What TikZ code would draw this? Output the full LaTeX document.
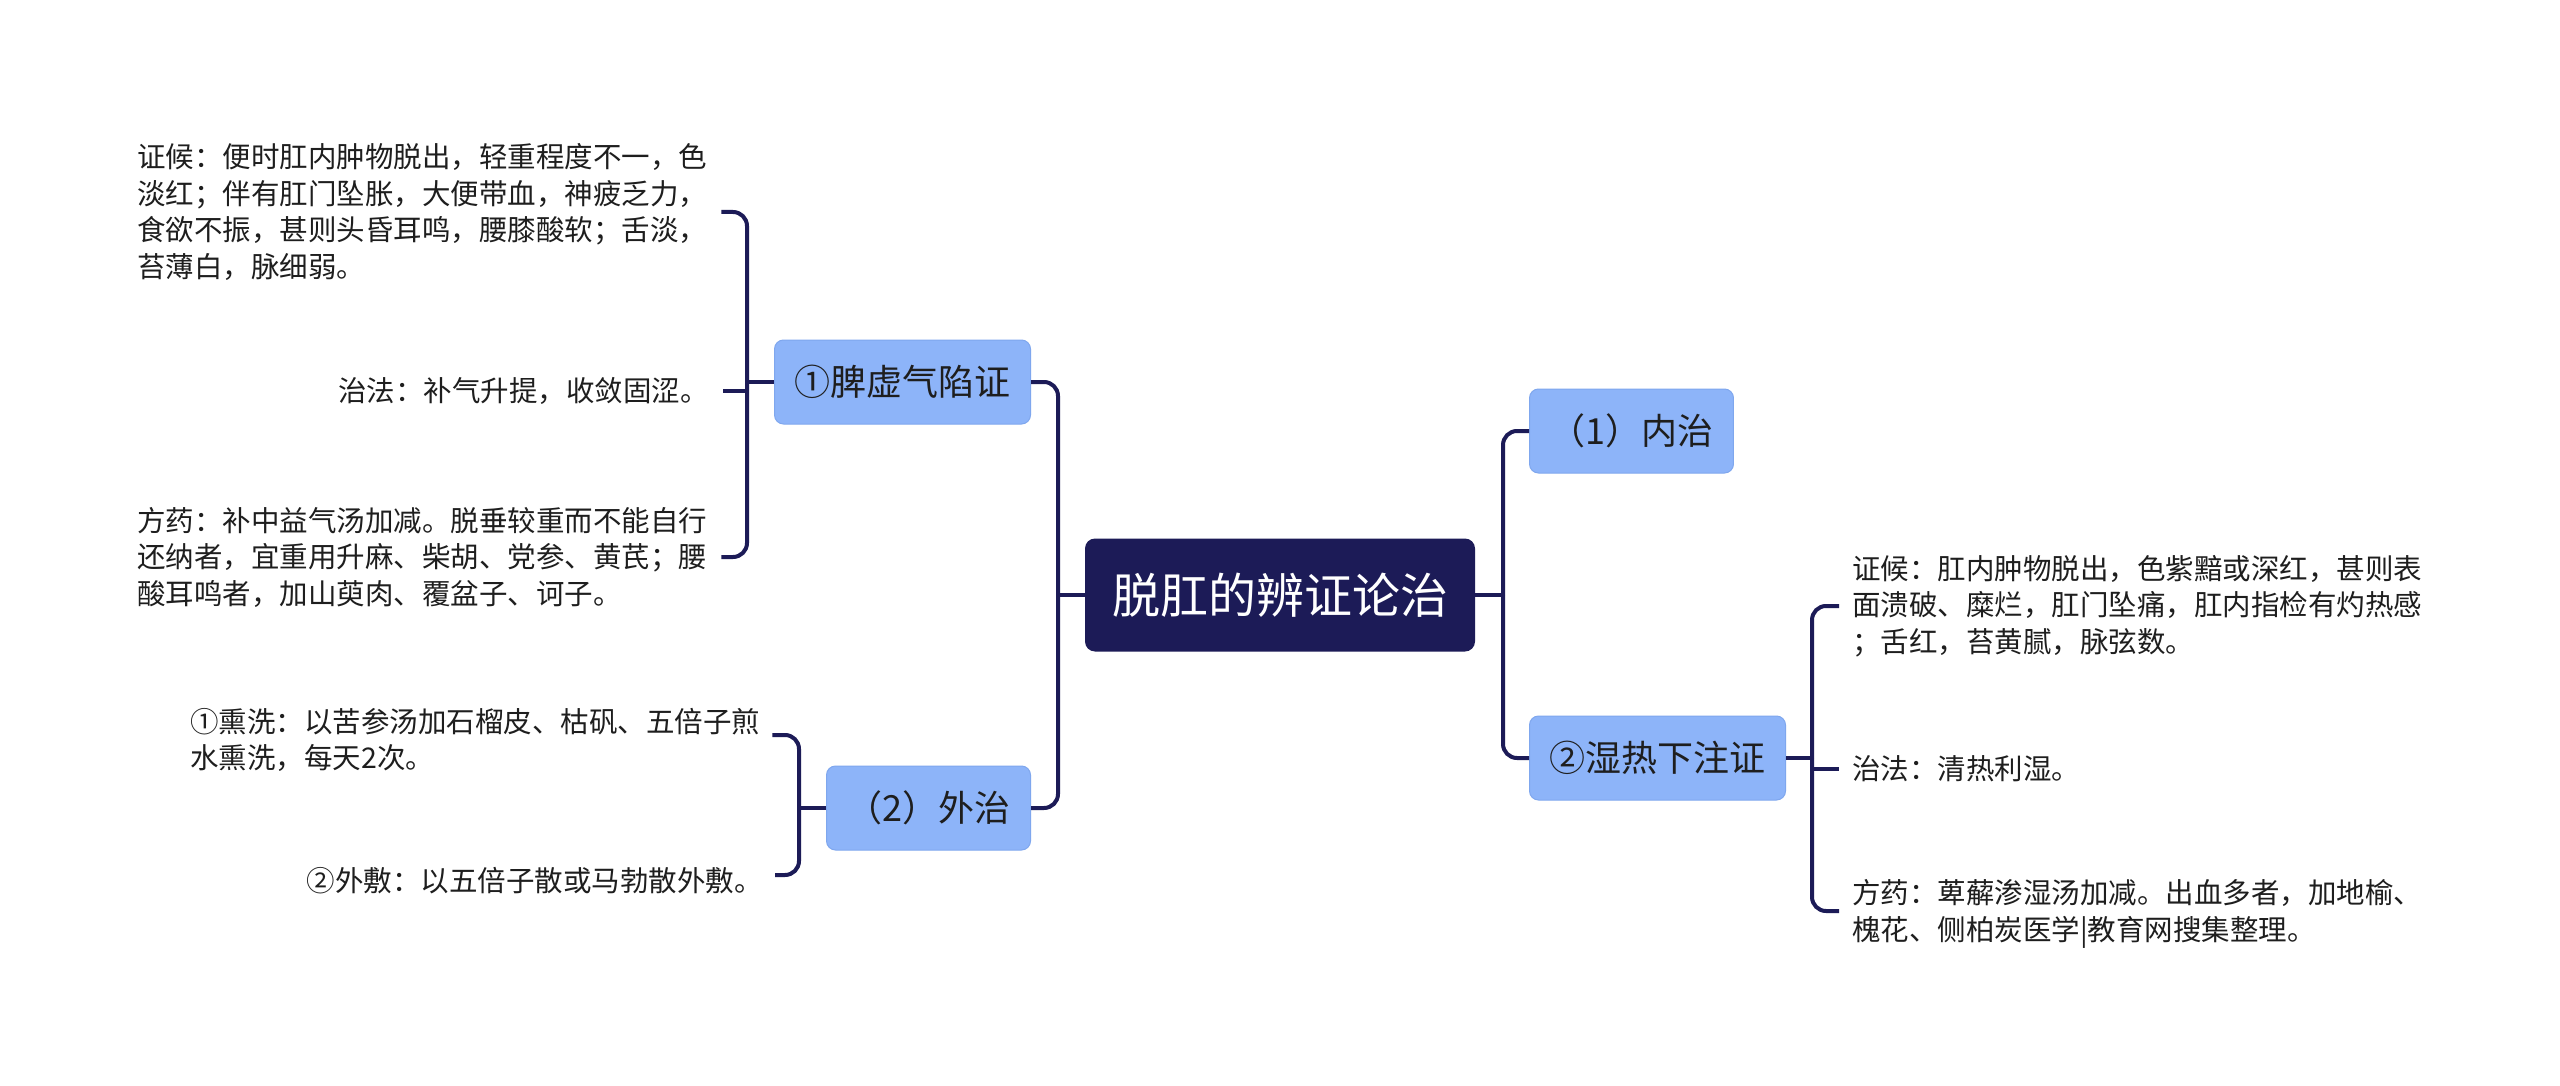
\documentclass[tikz,border=0pt]{standalone}
\usepackage{fontspec}
\setmainfont{Noto Sans CJK SC}
\definecolor{navy}{HTML}{1C1B57}
\definecolor{lblue}{HTML}{8DB4F9}
\definecolor{lborder}{HTML}{7FA7EE}
\definecolor{txt}{HTML}{1E1E1E}
\tikzset{
 conn/.style={draw=navy, line width=4pt},
 rc/.style={conn, rounded corners=14pt},
 rootbox/.style={fill=navy, rounded corners=10pt, text=white, font=\fontsize{48}{56}\selectfont, minimum width=390pt, minimum height=113pt, inner sep=0pt},
 subbox/.style={fill=lblue, draw=lborder, line width=1pt, rounded corners=9pt, text=txt, font=\fontsize{36}{44}\selectfont, minimum height=84pt, inner xsep=20pt, inner ysep=0pt},
 leaf/.style={text=txt, font=\fontsize{28.5}{36.5}\selectfont, align=left, inner sep=0pt},
}
\begin{document}
\begin{tikzpicture}[x=1pt,y=-1pt]
\fill[white] (0,0) rectangle (2560,1086);
\useasboundingbox (0,0) rectangle (2560,1086);

% main nodes
\node[rootbox] (root) at (1280,595) {脱肛的辨证论治};
\node[subbox, anchor=east] (A) at (1031,382) {①脾虚气陷证};
\node[subbox, anchor=east] (B) at (1031,808) {（2）外治};
\node[subbox, anchor=west] (C) at (1529,431) {（1）内治};
\node[subbox, anchor=west] (D) at (1529,758) {②湿热下注证};

% leaves of A
\node[leaf, anchor=west] (A1) at (137,212) {证候：便时肛内肿物脱出，轻重程度不一，色\\淡红；伴有肛门坠胀，大便带血，神疲乏力，\\食欲不振，甚则头昏耳鸣，腰膝酸软；舌淡，\\苔薄白，脉细弱。};
\node[leaf, anchor=east] (A2) at (709,391) {治法：补气升提，收敛固涩。};
\node[leaf, anchor=west] (A3) at (137,557) {方药：补中益气汤加减。脱垂较重而不能自行\\还纳者，宜重用升麻、柴胡、党参、黄芪；腰\\酸耳鸣者，加山萸肉、覆盆子、诃子。};

% leaves of B
\node[leaf, anchor=west] (B1) at (190,740) {①熏洗：以苦参汤加石榴皮、枯矾、五倍子煎\\水熏洗，每天2次。};
\node[leaf, anchor=east] (B2) at (763,881) {②外敷：以五倍子散或马勃散外敷。};

% leaves of D
\node[leaf, anchor=west] (D1) at (1852,606) {证候：肛内肿物脱出，色紫黯或深红，甚则表\\面溃破、糜烂，肛门坠痛，肛内指检有灼热感\\；舌红，苔黄腻，脉弦数。};
\node[leaf, anchor=west] (D2) at (1852,769) {治法：清热利湿。};
\node[leaf, anchor=west] (D3) at (1852,914) {方药：萆薢渗湿汤加减。出血多者，加地榆、\\槐花、侧柏炭医学|教育网搜集整理。};

% junctions
\coordinate (jL) at (1058,595);
\coordinate (jR) at (1503,595);
\coordinate (jA) at (747,382);
\coordinate (jB) at (799,808);
\coordinate (jD) at (1812,758);

% root connectors
\draw[conn] (root.west) -- (jL);
\draw[rc] (jL) |- (A.east);
\draw[rc] (jL) |- (B.east);
\draw[conn] (root.east) -- (jR);
\draw[rc] (jR) |- (C.west);
\draw[rc] (jR) |- (D.west);

% A connectors
\draw[conn] (A.west) -- (jA);
\draw[rc] (jA) |- ([xshift=14pt]A1.east);
\draw[conn] (jA |- A2.east) -- ([xshift=14pt]A2.east);
\draw[rc] (jA) |- ([xshift=14pt]A3.east);

% B connectors
\draw[conn] (B.west) -- (jB);
\draw[rc] (jB) |- ([xshift=12pt,yshift=5pt]B1.east);
\draw[rc] (jB) |- ([xshift=12pt,yshift=6pt]B2.east);

% D connectors
\draw[conn] (D.east) -- (jD);
\draw[rc] (jD) |- ([xshift=-13pt]D1.west);
\draw[conn] (jD |- D2.west) -- ([xshift=-13pt]D2.west);
\draw[rc] (jD) |- ([xshift=-13pt,yshift=3pt]D3.west);
\end{tikzpicture}
\end{document}
